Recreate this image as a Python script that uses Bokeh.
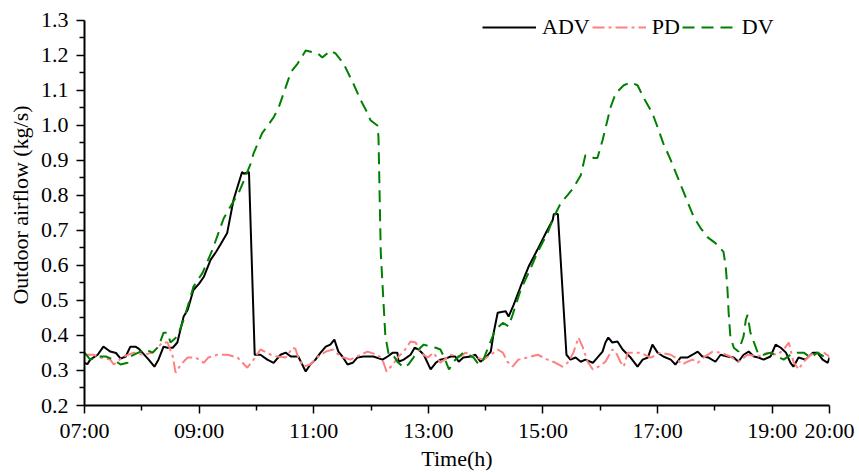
from bokeh.plotting import figure
from bokeh.models import Range1d, FixedTicker, Legend, LegendItem
from bokeh.embed import file_html
from bokeh.resources import INLINE

# ---- data (time in hours, airflow in kg/s) ----
adv_t = [7.00, 7.05, 7.10, 7.23, 7.33, 7.40, 7.45, 7.55, 7.63, 7.72, 7.80, 7.89, 7.95, 8.01, 8.12,
         8.22, 8.29, 8.38, 8.45, 8.54, 8.62, 8.73, 8.80, 8.90, 9.00, 9.08, 9.20, 9.30, 9.37, 9.49,
         9.60, 9.68, 9.75, 9.78, 9.87, 9.97, 10.07, 10.19, 10.30, 10.42, 10.51, 10.60, 10.73, 10.86,
         10.94, 11.03, 11.12, 11.21, 11.29, 11.36, 11.43, 11.50, 11.59, 11.68, 11.76, 11.87, 12.04,
         12.20, 12.29, 12.38, 12.46, 12.48, 12.57, 12.69, 12.76, 12.83, 12.92, 13.04, 13.13, 13.21,
         13.30, 13.39, 13.47, 13.53, 13.61, 13.74, 13.82, 13.91, 14.00, 14.09, 14.14, 14.21, 14.30,
         14.35, 14.40, 14.49, 14.61, 14.75, 14.90, 15.05, 15.17, 15.19, 15.26, 15.41, 15.48, 15.57,
         15.66, 15.74, 15.87, 15.95, 16.04, 16.09, 16.14, 16.21, 16.30, 16.39, 16.48, 16.53, 16.65,
         16.74, 16.83, 16.91, 17.00, 17.10, 17.23, 17.31, 17.40, 17.52, 17.61, 17.70, 17.78, 17.89,
         18.01, 18.10, 18.22, 18.33, 18.41, 18.50, 18.59, 18.68, 18.76, 18.85, 18.97, 19.06, 19.15,
         19.24, 19.32, 19.37, 19.46, 19.58, 19.71, 19.79, 19.88, 19.97, 20.00]
adv_v = [0.322, 0.318, 0.331, 0.345, 0.368, 0.360, 0.354, 0.350, 0.334, 0.340, 0.368, 0.368, 0.362,
         0.351, 0.331, 0.311, 0.331, 0.368, 0.365, 0.365, 0.380, 0.454, 0.473, 0.530, 0.548, 0.567,
         0.616, 0.640, 0.659, 0.693, 0.787, 0.830, 0.867, 0.862, 0.867, 0.345, 0.345, 0.331, 0.322,
         0.345, 0.351, 0.340, 0.340, 0.297, 0.317, 0.331, 0.351, 0.368, 0.374, 0.388, 0.354, 0.340,
         0.317, 0.322, 0.337, 0.340, 0.340, 0.331, 0.340, 0.351, 0.351, 0.325, 0.331, 0.345, 0.365,
         0.360, 0.345, 0.303, 0.322, 0.331, 0.334, 0.340, 0.340, 0.325, 0.337, 0.340, 0.345, 0.325,
         0.337, 0.354, 0.408, 0.465, 0.468, 0.469, 0.454, 0.488, 0.540, 0.597, 0.644, 0.693, 0.730,
         0.747, 0.747, 0.345, 0.331, 0.337, 0.325, 0.331, 0.322, 0.337, 0.354, 0.380, 0.394, 0.380,
         0.383, 0.360, 0.345, 0.337, 0.311, 0.331, 0.337, 0.374, 0.351, 0.340, 0.331, 0.317, 0.337,
         0.337, 0.345, 0.354, 0.340, 0.337, 0.325, 0.345, 0.340, 0.337, 0.325, 0.345, 0.354, 0.340,
         0.337, 0.331, 0.340, 0.374, 0.365, 0.351, 0.322, 0.311, 0.337, 0.331, 0.351, 0.351, 0.331,
         0.322, 0.337]

pd_t = [7.00, 7.16, 7.28, 7.45, 7.51, 7.68, 7.86, 8.03, 8.19, 8.36, 8.45, 8.54, 8.59, 8.68, 8.80,
        8.94, 9.08, 9.16, 9.32, 9.50, 9.67, 9.84, 9.95, 10.07, 10.25, 10.37, 10.51, 10.63, 10.68,
        10.73, 10.82, 10.94, 11.08, 11.21, 11.33, 11.47, 11.64, 11.82, 11.94, 12.11, 12.20, 12.27,
        12.38, 12.48, 12.57, 12.69, 12.78, 12.86, 12.99, 13.09, 13.21, 13.39, 13.56, 13.65, 13.79,
        13.96, 14.09, 14.21, 14.30, 14.38, 14.47, 14.57, 14.73, 14.91, 15.08, 15.22, 15.34, 15.45,
        15.53, 15.62, 15.69, 15.78, 15.87, 15.97, 16.09, 16.21, 16.27, 16.35, 16.41, 16.48, 16.70,
        16.88, 17.05, 17.23, 17.31, 17.43, 17.52, 17.61, 17.70, 17.80, 17.96, 18.10, 18.27, 18.41,
        18.57, 18.75, 18.92, 19.09, 19.20, 19.29, 19.37, 19.46, 19.55, 19.67, 19.79, 19.90, 20.00]
pd_v = [0.345, 0.345, 0.337, 0.331, 0.317, 0.340, 0.351, 0.345, 0.351, 0.380, 0.380, 0.340, 0.294,
        0.317, 0.337, 0.337, 0.322, 0.337, 0.345, 0.345, 0.337, 0.308, 0.331, 0.360, 0.345, 0.340,
        0.337, 0.365, 0.362, 0.337, 0.311, 0.317, 0.340, 0.354, 0.360, 0.340, 0.331, 0.345, 0.354,
        0.345, 0.331, 0.297, 0.317, 0.340, 0.354, 0.383, 0.380, 0.351, 0.337, 0.351, 0.322, 0.345,
        0.340, 0.351, 0.340, 0.331, 0.345, 0.360, 0.351, 0.325, 0.311, 0.331, 0.337, 0.345, 0.331,
        0.322, 0.311, 0.325, 0.351, 0.394, 0.368, 0.325, 0.303, 0.311, 0.325, 0.360, 0.353, 0.325,
        0.311, 0.351, 0.351, 0.337, 0.351, 0.345, 0.337, 0.317, 0.325, 0.331, 0.322, 0.337, 0.354,
        0.351, 0.340, 0.325, 0.345, 0.340, 0.351, 0.345, 0.360, 0.380, 0.325, 0.303, 0.325, 0.345,
        0.351, 0.351, 0.340]

dv_t = [7.00, 7.10, 7.24, 7.37, 7.51, 7.63, 7.75, 7.80, 7.94, 8.06, 8.19, 8.29, 8.38, 8.45, 8.50,
        8.62, 8.73, 8.85, 8.90, 9.06, 9.23, 9.43, 9.58, 9.69, 9.77, 9.90, 9.95, 10.10, 10.30, 10.39,
        10.51, 10.60, 10.72, 10.86, 11.07, 11.15, 11.29, 11.38, 11.52, 11.69, 11.82, 11.94, 11.99,
        12.11, 12.13, 12.17, 12.25, 12.31, 12.38, 12.46, 12.57, 12.65, 12.74, 12.83, 12.92, 13.04,
        13.13, 13.21, 13.27, 13.36, 13.47, 13.61, 13.70, 13.79, 13.88, 13.96, 14.05, 14.12, 14.17,
        14.30, 14.40, 14.47, 14.61, 14.75, 14.90, 15.08, 15.19, 15.31, 15.43, 15.53, 15.66, 15.74,
        15.89, 15.95, 16.04, 16.18, 16.27, 16.41, 16.53, 16.65, 16.76, 16.91, 17.00, 17.10, 17.23,
        17.37, 17.49, 17.63, 17.75, 17.87, 18.01, 18.15, 18.19, 18.22, 18.24, 18.27, 18.33, 18.41,
        18.50, 18.54, 18.57, 18.62, 18.71, 18.76, 18.85, 18.97, 19.09, 19.20, 19.32, 19.44, 19.55,
        19.67, 19.79, 19.90, 20.00]
dv_v = [0.351, 0.331, 0.340, 0.340, 0.331, 0.317, 0.322, 0.340, 0.351, 0.360, 0.351, 0.368, 0.408,
        0.408, 0.380, 0.397, 0.445, 0.510, 0.539, 0.579, 0.644, 0.735, 0.778, 0.807, 0.838, 0.891,
        0.920, 0.978, 1.023, 1.052, 1.109, 1.152, 1.177, 1.214, 1.206, 1.194, 1.214, 1.206, 1.177,
        1.120, 1.072, 1.035, 1.015, 1.000, 0.966, 0.636, 0.397, 0.345, 0.345, 0.325, 0.308, 0.317,
        0.337, 0.360, 0.374, 0.368, 0.365, 0.360, 0.340, 0.303, 0.331, 0.351, 0.345, 0.337, 0.317,
        0.331, 0.368, 0.397, 0.417, 0.436, 0.426, 0.459, 0.530, 0.579, 0.636, 0.693, 0.739, 0.778,
        0.801, 0.821, 0.858, 0.915, 0.907, 0.907, 0.958, 1.052, 1.092, 1.115, 1.123, 1.115, 1.078,
        1.035, 0.995, 0.949, 0.901, 0.844, 0.795, 0.739, 0.707, 0.681, 0.664, 0.639, 0.596, 0.530,
        0.465, 0.397, 0.365, 0.354, 0.397, 0.445, 0.459, 0.408, 0.368, 0.345, 0.345, 0.351, 0.340,
        0.331, 0.345, 0.351, 0.351, 0.337, 0.351, 0.340, 0.351]

x_ticks = [7, 9, 11, 13, 15, 17, 19, 20]
x_tick_labels = ["07:00", "09:00", "11:00", "13:00", "15:00", "17:00", "19:00", "20:00"]
x_minor = [8, 10, 12, 14, 16, 18]
y_ticks = [0.2, 0.3, 0.4, 0.5, 0.6, 0.7, 0.8, 0.9, 1.0, 1.1, 1.2, 1.3]
y_minor = [0.25, 0.35, 0.45, 0.55, 0.65, 0.75, 0.85, 0.95, 1.05, 1.15, 1.25]

FONT = "'Liberation Serif', 'Times New Roman', serif"
FS = "22px"

# frame extends 16px above the 1.3 tick (head-room for the legend); axis line is bounded at 1.3
p = figure(width=859, height=473, output_backend="svg", toolbar_location=None,
           x_range=Range1d(7, 20), y_range=Range1d(0.2, 1.3 + 16 / 351),
           min_border_left=84, min_border_right=30, min_border_top=4, min_border_bottom=60)
p.outline_line_color = None
p.xgrid.visible = False
p.ygrid.visible = False

r_adv = p.line(adv_t, adv_v, line_color="black", line_width=2)
r_pd = p.line(pd_t, pd_v, line_color="#FF8080", line_width=2, line_dash="12 4 3 4")
r_dv = p.line(dv_t, dv_v, line_color="#008000", line_width=2, line_dash="12 7")

for ax in (p.xaxis[0], p.yaxis[0]):
    ax.axis_line_width = 2
    ax.axis_line_color = "black"
    ax.major_tick_line_width = 1.5
    ax.minor_tick_line_width = 1.5
    ax.major_tick_line_color = "black"
    ax.minor_tick_line_color = "black"
    ax.major_tick_in = 0
    ax.minor_tick_in = 0
    ax.major_tick_out = 8
    ax.minor_tick_out = 5
    ax.major_label_text_font = FONT
    ax.major_label_text_font_size = FS
    ax.major_label_text_color = "black"
    ax.axis_label_text_font = FONT
    ax.axis_label_text_font_size = FS
    ax.axis_label_text_font_style = "normal"
    ax.axis_label_text_color = "black"

p.xaxis.ticker = FixedTicker(ticks=x_ticks, minor_ticks=x_minor)
p.xaxis.major_label_overrides = {t: l for t, l in zip(x_ticks, x_tick_labels)}
p.xaxis.axis_label = "Time(h)"
p.xaxis.major_label_standoff = 4
p.xaxis.axis_label_standoff = 0

p.yaxis.ticker = FixedTicker(ticks=y_ticks, minor_ticks=y_minor)
p.yaxis.major_label_overrides = {t: f"{t:.1f}" for t in y_ticks}
p.yaxis.bounds = (0.2, 1.3)
p.yaxis.axis_label = "Outdoor airflow (kg/s)"
p.yaxis.major_label_standoff = 8
p.yaxis.axis_label_standoff = 5

legend = Legend(items=[LegendItem(label="ADV", renderers=[r_adv]),
                       LegendItem(label="PD", renderers=[r_pd]),
                       LegendItem(label="DV", renderers=[r_dv])],
                orientation="horizontal", location=(398, 365))
legend.background_fill_alpha = 0
legend.border_line_color = None
legend.padding = 0
legend.margin = 0
legend.spacing = 2
legend.glyph_width = 54
legend.glyph_height = 20
legend.label_height = 20
legend.label_standoff = 6
legend.label_text_font = FONT
legend.label_text_font_size = FS
legend.label_text_color = "black"
p.add_layout(legend)

open("out.html", "w").write(file_html(p, INLINE))
